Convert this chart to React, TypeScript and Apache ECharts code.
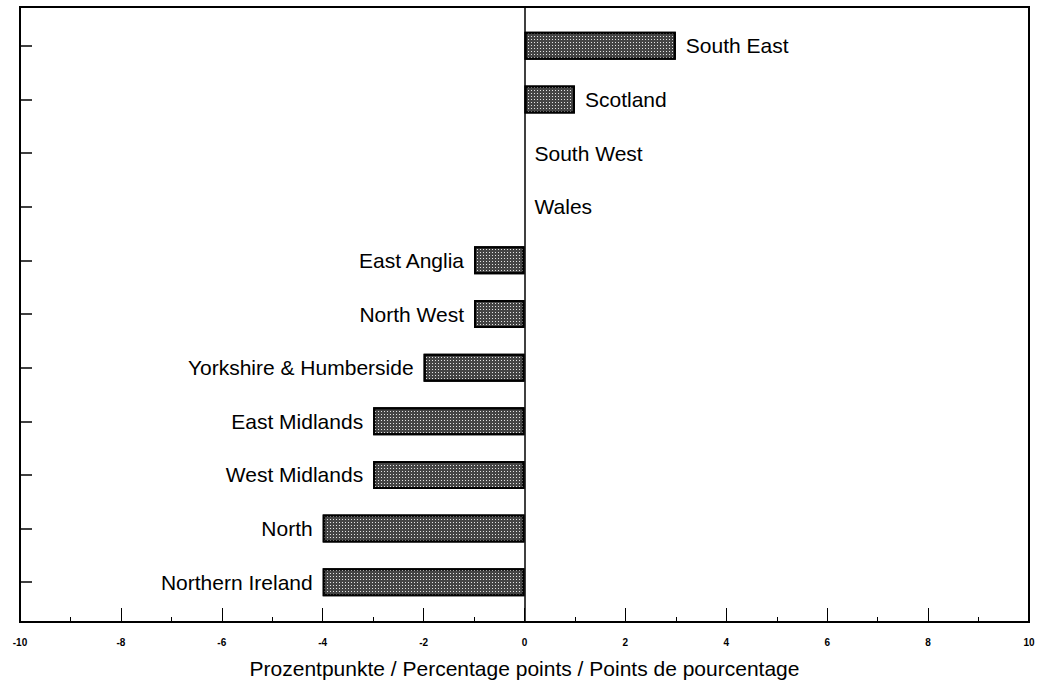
import React, { useEffect, useRef } from "react";
import * as echarts from "echarts";

const categories = [
  "Northern Ireland",
  "North",
  "West Midlands",
  "East Midlands",
  "Yorkshire & Humberside",
  "North West",
  "East Anglia",
  "Wales",
  "South West",
  "Scotland",
  "South East",
];
const values = [-4, -4, -3, -3, -2, -1, -1, 0, 0, 1, 3];
const axisName = "Prozentpunkte / Percentage points / Points de pourcentage";
const FONT = "'Liberation Sans', Arial, sans-serif";

export default function App() {
  const ref = useRef<HTMLDivElement>(null);
  useEffect(() => {
    if (!ref.current) return;
    const chart = echarts.init(ref.current, null, { renderer: "svg" });
    chart.setOption({
      animation: false,
      backgroundColor: "#fff",
      grid: [
        { left: 20, right: 12, top: 7, bottom: 64, show: true, borderColor: "#000", borderWidth: 2, backgroundColor: "transparent" },
        { left: 20, right: 12, top: 19, bottom: 77 },
      ],
      xAxis: [
        {
          gridIndex: 0,
          type: "value",
          min: -10,
          max: 10,
          interval: 2,
          axisLine: { show: true, onZero: false, lineStyle: { color: "#000", width: 2 } },
          axisTick: { show: true, inside: true, length: 14, lineStyle: { color: "#000", width: 1 } },
          minorTick: { show: true, splitNumber: 2, length: 5, lineStyle: { color: "#000", width: 1 } },
          splitLine: { show: false },
          axisLabel: { color: "#000", fontSize: 10, fontWeight: "bold", fontFamily: FONT, margin: 15 },
          name: axisName,
          nameLocation: "middle",
          nameGap: 36,
          nameTextStyle: { color: "#000", fontSize: 21, fontFamily: FONT },
        },
        {
          gridIndex: 1,
          type: "value",
          min: -10,
          max: 10,
          show: false,
        },
      ],
      yAxis: [
        {
          gridIndex: 0,
          type: "value",
          min: 0,
          max: 1,
          axisLine: { show: true, onZero: true, lineStyle: { color: "#000", width: 1.5 } },
          axisTick: { show: false },
          axisLabel: { show: false },
          splitLine: { show: false },
        },
        {
          gridIndex: 1,
          type: "category",
          data: categories,
          axisLine: { show: false, onZero: false },
          axisTick: { show: true, inside: true, alignWithLabel: true, length: 12, lineStyle: { color: "#000", width: 1.5 } },
          axisLabel: { show: false },
          splitLine: { show: false },
        },
      ],
      series: [
        {
          type: "bar",
          xAxisIndex: 1,
          yAxisIndex: 1,
          data: values.map((v) => ({
            value: v,
            label: {
              position: v < 0 ? "left" : "right",
            },
            itemStyle: v === 0 ? { borderWidth: 0 } : undefined,
          })),
          barWidth: 28,
          itemStyle: {
            color: "#444",
            borderColor: "#000",
            borderWidth: 2,
            decal: {
              symbol: "rect",
              symbolSize: 1,
              color: "rgba(255,255,255,0.85)",
              dashArrayX: [1, 2],
              dashArrayY: [1, 2],
              rotation: 0,
            },
          },
          label: {
            show: true,
            distance: 10,
            color: "#000",
            fontSize: 21,
            fontFamily: FONT,
            formatter: (p: any) => categories[p.dataIndex],
          },
        },
      ],
    });
    return () => chart.dispose();
  }, []);
  return <div ref={ref} style={{ width: 1041, height: 686, position: "absolute", left: 0, top: 0 }} />;
}
